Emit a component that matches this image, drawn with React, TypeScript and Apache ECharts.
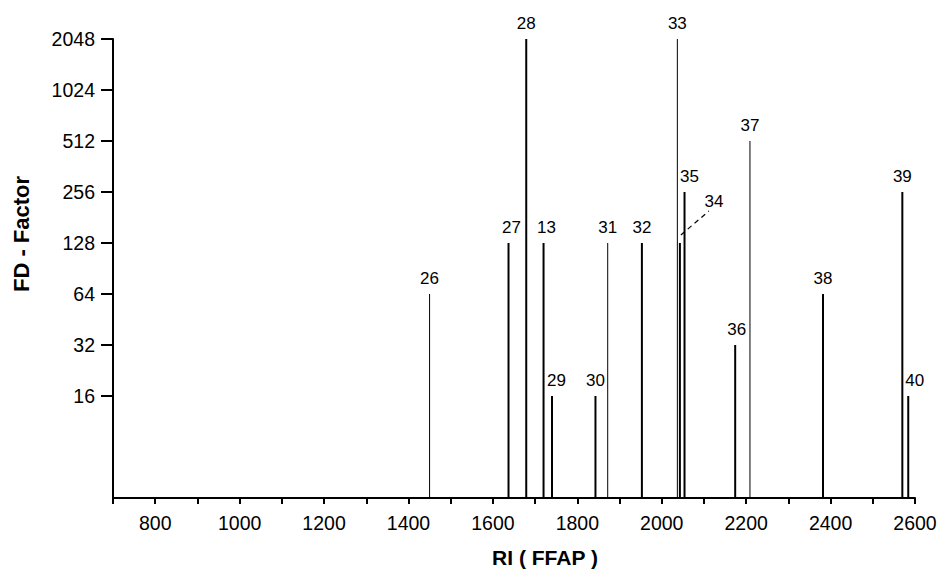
import React, { useEffect, useRef } from "react";
import * as echarts from "echarts";

// ---- data ----
const compoundIds = ["26", "27", "28", "13", "29", "30", "31", "32", "33", "34", "35", "36", "37", "38", "39", "40"];
const retentionIndices = [1450, 1637, 1679, 1720, 1740, 1843, 1872, 1953, 2037, 2043, 2054, 2174, 2209, 2382, 2570, 2584];
const fdFactors = [64, 128, 2048, 128, 16, 16, 128, 128, 2048, 128, 256, 32, 512, 64, 256, 16];
const yTickValues = [16, 32, 64, 128, 256, 512, 1024, 2048];
const xMin = 700;
const xMax = 2600;
const yMin = 4;
const yMax = 2048;

// ---- styling / label layout (kept apart from the data) ----
const thinStems = new Set(["26", "31", "33", "37"]);
const labelShift: Record<string, { dx?: number; dy?: number; leader?: boolean }> = {
  "27": { dx: 3 },
  "13": { dx: 3 },
  "29": { dx: 4.5 },
  "35": { dx: 5 },
  "36": { dx: 1.5 },
  "40": { dx: 6.5 },
  "34": { dx: 34, dy: -42, leader: true },
};
const FONT = "Liberation Sans, Arial, Helvetica, sans-serif";

export default function App() {
  const ref = useRef<HTMLDivElement>(null);

  useEffect(() => {
    document.body.style.margin = "0";
    if (!ref.current) return;
    const chart = echarts.init(ref.current, undefined, { renderer: "svg" });

    const data = compoundIds.map((id, i) => [retentionIndices[i], fdFactors[i], i]);

    const option: any = {
      animation: false,
      backgroundColor: "#fff",
      grid: { left: 113, right: 30, top: 39, bottom: 73, outerBoundsMode: "none" },
      xAxis: {
        type: "value",
        min: xMin,
        max: xMax,
        interval: 100,
        axisLine: { onZero: false, lineStyle: { color: "#000", width: 2 } },
        axisTick: { show: true, length: 6, lineStyle: { color: "#000", width: 2 } },
        axisLabel: {
          color: "#000",
          fontSize: 19.5,
          fontFamily: FONT,
          margin: 15,
          formatter: (v: number) => (v % 200 === 0 && v !== xMin ? String(v) : ""),
        },
        splitLine: { show: false },
      },
      yAxis: {
        type: "log",
        logBase: 2,
        min: yMin,
        max: yMax,
        axisLine: { show: true, lineStyle: { color: "#000", width: 2 } },
        axisTick: { show: true, length: 12, customValues: yTickValues, lineStyle: { color: "#000", width: 2 } },
        axisLabel: {
          color: "#000",
          fontSize: 19.5,
          fontFamily: FONT,
          margin: 18,
          customValues: yTickValues,
          formatter: (v: number) => String(Math.round(v)),
        },
        splitLine: { show: false },
        minorTick: { show: false },
      },
      graphic: [
        {
          type: "text",
          x: 21,
          y: 234,
          rotation: Math.PI / 2,
          style: {
            text: "FD - Factor",
            fontSize: 22,
            fontWeight: "bold",
            fontFamily: FONT,
            fill: "#000",
            align: "center",
            verticalAlign: "middle",
          },
        },
        {
          type: "text",
          x: 545,
          y: 557,
          style: {
            text: "RI ( FFAP )",
            fontSize: 21,
            fontWeight: "bold",
            fontFamily: FONT,
            fill: "#000",
            align: "center",
            verticalAlign: "middle",
          },
        },
      ],
      series: [
        {
          type: "custom",
          clip: false,
          data,
          renderItem: (params: any, api: any) => {
            const x = api.value(0);
            const v = api.value(1);
            const idx = api.value(2);
            const id = compoundIds[idx];
            const top = api.coord([x, v]);
            const base = api.coord([x, yMin]);
            const shift = labelShift[id] || {};
            const dx = shift.dx ?? 0;
            const dy = shift.dy ?? -16;
            const children: any[] = [
              {
                type: "line",
                shape: { x1: top[0], y1: base[1], x2: top[0], y2: top[1] },
                style: { stroke: "#000", lineWidth: thinStems.has(id) ? 1 : 2 },
              },
              {
                type: "text",
                style: {
                  text: id,
                  x: top[0] + dx,
                  y: top[1] + dy,
                  align: "center",
                  verticalAlign: "middle",
                  fontSize: 17,
                  fontFamily: FONT,
                  fill: "#000",
                },
              },
            ];
            if (shift.leader) {
              children.push({
                type: "line",
                shape: { x1: top[0] + 1, y1: top[1] - 8, x2: top[0] + 29, y2: top[1] - 32 },
                style: { stroke: "#000", lineWidth: 1.2, lineDash: [5, 4] },
              });
            }
            return { type: "group", children };
          },
        },
      ],
    };

    chart.setOption(option);
    return () => chart.dispose();
  }, []);

  return <div ref={ref} style={{ width: 945, height: 571 }} />;
}
